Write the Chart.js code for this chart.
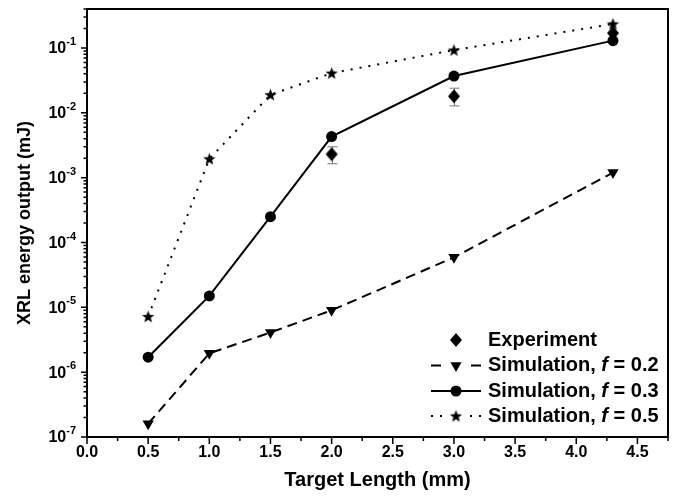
<!DOCTYPE html>
<html>
<head>
<meta charset="utf-8">
<script src="https://cdn.jsdelivr.net/npm/chart.js@4.4.1/dist/chart.umd.min.js"></script>
<style>
  html, body { margin: 0; padding: 0; background: #fff; }
  #wrap { width: 677px; height: 499px; }
</style>
</head>
<body>
<div id="wrap"><canvas id="chart"></canvas></div>
<script>
// values
const lengths = [0.5, 1.0, 1.5, 2.0, 3.0, 4.3];
const sim02 = [1.6e-7, 1.95e-6, 4.1e-6, 9.0e-6, 5.9e-5, 1.2e-3];
const sim03 = [1.7e-6, 1.5e-5, 2.5e-4, 4.3e-3, 3.7e-2, 0.13];
const sim05 = [7.2e-6, 1.95e-3, 1.9e-2, 4.1e-2, 9.3e-2, 0.235];
const expLengths = [2.0, 3.0, 4.3];
const experiment = [2.3e-3, 1.8e-2, 0.17];
const expErrLow = [1.64e-3, 1.28e-2, null];
const expErrHigh = [3.0e-3, 2.4e-2, null];
const xTicks = [0, 0.5, 1.0, 1.5, 2.0, 2.5, 3.0, 3.5, 4.0, 4.5];
const yExponents = [-7, -6, -5, -4, -3, -2, -1];
const legendNames = ['Experiment', 'Simulation, ', 'Simulation, ', 'Simulation, '];
const legendF = [null, '0.2', '0.3', '0.5'];

const FONT = '"Liberation Sans", Arial, Helvetica, sans-serif';

function pairs(xs, ys) {
    return xs.map((x, i) => ({ x: x, y: ys[i] }));
}

// filled star and diamond markers
function makeStar(r) {
    const c = document.createElement('canvas');
    c.width = c.height = Math.ceil(r * 2 + 2);
    const g = c.getContext('2d');
    const cx = c.width / 2, cy = c.height / 2 + 0.5;
    g.beginPath();
    for (let i = 0; i < 10; i++) {
        const rad = i % 2 === 0 ? r : r * 0.42;
        const a = -Math.PI / 2 + i * Math.PI / 5;
        g.lineTo(cx + rad * Math.cos(a), cy + rad * Math.sin(a));
    }
    g.closePath();
    g.fillStyle = '#000';
    g.fill();
    return c;
}

function makeDiamond(w, h) {
    const c = document.createElement('canvas');
    c.width = w + 2;
    c.height = h + 2;
    const g = c.getContext('2d');
    g.beginPath();
    g.moveTo(c.width / 2, 1);
    g.lineTo(c.width - 1, c.height / 2);
    g.lineTo(c.width / 2, c.height - 1);
    g.lineTo(1, c.height / 2);
    g.closePath();
    g.fillStyle = '#000';
    g.fill();
    return c;
}

const starImg = makeStar(6.5);
const diamondImg = makeDiamond(12, 14);

const errorBars = {
    id: 'errorBars',
    beforeDatasetsDraw(chart) {
        const { ctx, scales: { x, y } } = chart;
        ctx.save();
        ctx.strokeStyle = '#777';
        ctx.lineWidth = 1;
        expLengths.forEach((v, i) => {
            if (expErrLow[i] == null) return;
            const px = Math.round(x.getPixelForValue(v)) + 0.5;
            const lo = y.getPixelForValue(expErrLow[i]);
            const hi = y.getPixelForValue(expErrHigh[i]);
            ctx.beginPath();
            ctx.moveTo(px, lo); ctx.lineTo(px, hi);
            ctx.moveTo(px - 5, hi); ctx.lineTo(px + 5, hi);
            ctx.moveTo(px - 5, lo); ctx.lineTo(px + 5, lo);
            ctx.stroke();
        });
        ctx.restore();
    }
};

const frameAndTicks = {
    id: 'frameAndTicks',
    afterDraw(chart) {
        const { ctx, chartArea: a, scales: { x, y } } = chart;
        ctx.save();
        ctx.strokeStyle = '#000';
        ctx.lineWidth = 2;
        ctx.strokeRect(a.left, a.top, a.right - a.left, a.bottom - a.top);

        ctx.lineWidth = 1.5;
        ctx.beginPath();
        // x ticks (major every 0.5, minor in between)
        for (let i = 0; i * 0.25 <= x.max + 1e-9; i++) {
            const px = x.getPixelForValue(i * 0.25);
            ctx.moveTo(px, a.bottom);
            ctx.lineTo(px, a.bottom + (i % 2 === 0 ? 7 : 4));
        }
        // y ticks, 1..9 per decade
        for (let e = yExponents[0]; e <= 0; e++) {
            for (let k = 1; k <= 9; k++) {
                const v = k * Math.pow(10, e);
                if (v > y.max * 1.0001) break;
                const py = y.getPixelForValue(v);
                ctx.moveTo(a.left, py);
                ctx.lineTo(a.left - (k === 1 ? 6 : 3.5), py);
            }
        }
        ctx.stroke();

        // y labels 10^n
        ctx.fillStyle = '#000';
        ctx.textBaseline = 'middle';
        yExponents.forEach(e => {
            const py = y.getPixelForValue(Math.pow(10, e));
            const exp = '-' + Math.abs(e);
            ctx.font = 'bold 11px ' + FONT;
            const ew = ctx.measureText(exp).width;
            ctx.font = 'bold 16px ' + FONT;
            const bw = ctx.measureText('10').width;
            const right = a.left - 11;
            ctx.textAlign = 'left';
            ctx.fillText('10', right - ew - bw, py + 1);
            ctx.font = 'bold 11px ' + FONT;
            ctx.fillText(exp, right - ew, py - 6);
        });
        ctx.restore();
    }
};

const legendBox = {
    id: 'legendBox',
    afterDraw(chart) {
        const { ctx } = chart;
        const symX = 456, textX = 488;
        const rowY = [340, 365.5, 391, 416];
        ctx.save();
        chart.data.datasets.forEach((ds, i) => {
            const py = rowY[i];
            if (ds.showLine !== false) {
                const dash = ds.borderDash || [];
                const len = dash.length ? 15 : 20;
                ctx.strokeStyle = '#000';
                ctx.lineWidth = ds.borderWidth;
                ctx.setLineDash(dash);
                ctx.beginPath();
                ctx.moveTo(symX - 25, py); ctx.lineTo(symX - 25 + len, py);
                ctx.stroke();
                ctx.beginPath();
                ctx.moveTo(symX + 25, py); ctx.lineTo(symX + 25 - len, py);
                ctx.stroke();
                ctx.setLineDash([]);
            }
            ctx.fillStyle = '#000';
            Chart.helpers.drawPoint(ctx, {
                pointStyle: ds.pointStyle,
                radius: ds.pointRadius,
                rotation: ds.pointRotation || 0,
                borderWidth: 0
            }, symX, py);

            ctx.fillStyle = '#000';
            ctx.textBaseline = 'middle';
            ctx.textAlign = 'left';
            ctx.font = 'bold 20px ' + FONT;
            let tx = textX;
            ctx.fillText(legendNames[i], tx, py);
            if (legendF[i]) {
                tx += ctx.measureText(legendNames[i]).width;
                ctx.font = 'italic bold 20px ' + FONT;
                ctx.fillText('f', tx, py);
                tx += ctx.measureText('f').width;
                ctx.font = 'bold 20px ' + FONT;
                ctx.fillText(' = ' + legendF[i], tx, py);
            }
        });
        ctx.restore();
    }
};

new Chart(document.getElementById('chart'), {
    type: 'line',
    data: {
        datasets: [
            {
                label: 'Experiment',
                data: pairs(expLengths, experiment),
                showLine: false,
                pointStyle: diamondImg,
                pointRadius: 7,
                backgroundColor: '#000',
                borderColor: '#000'
            },
            {
                label: 'Simulation, f = 0.2',
                data: pairs(lengths, sim02),
                borderColor: '#000',
                backgroundColor: '#000',
                borderWidth: 2,
                borderDash: [10, 6],
                pointStyle: 'triangle',
                pointRotation: 180,
                pointRadius: 6.5,
                pointBorderWidth: 0
            },
            {
                label: 'Simulation, f = 0.3',
                data: pairs(lengths, sim03),
                borderColor: '#000',
                backgroundColor: '#000',
                borderWidth: 2,
                pointStyle: 'circle',
                pointRadius: 5.5,
                pointBorderWidth: 0
            },
            {
                label: 'Simulation, f = 0.5',
                data: pairs(lengths, sim05),
                borderColor: '#000',
                backgroundColor: '#000',
                borderWidth: 2,
                borderDash: [2, 7],
                pointStyle: starImg,
                pointRadius: 7
            }
        ]
    },
    options: {
        responsive: true,
        maintainAspectRatio: false,
        animation: false,
        layout: { padding: { top: 9, right: 6, left: 0, bottom: 0 } },
        plugins: { legend: { display: false }, tooltip: { enabled: false } },
        scales: {
            x: {
                type: 'linear',
                min: 0,
                max: 4.75,
                afterBuildTicks: s => { s.ticks = xTicks.map(v => ({ value: v })); },
                afterFit: s => { s.height = 62; },
                grid: { display: false },
                border: { display: false },
                ticks: {
                    color: '#000',
                    font: { family: FONT, size: 16, weight: 'bold' },
                    padding: -2,
                    maxRotation: 0,
                    autoSkip: false,
                    callback: v => v.toFixed(1)
                },
                title: {
                    display: true,
                    text: 'Target Length (mm)',
                    color: '#000',
                    font: { family: FONT, size: 20, weight: 'bold' },
                    padding: { top: 0, bottom: 7 }
                }
            },
            y: {
                type: 'logarithmic',
                min: 1e-7,
                max: 0.4,
                afterFit: s => { s.width = 87; },
                grid: { display: false },
                border: { display: false },
                ticks: { display: false },
                title: {
                    display: true,
                    text: 'XRL energy output (mJ)',
                    color: '#000',
                    font: { family: FONT, size: 18, weight: 'bold' },
                    padding: { top: 14, bottom: 0 }
                }
            }
        }
    },
    plugins: [errorBars, frameAndTicks, legendBox]
});
</script>
</body>
</html>
